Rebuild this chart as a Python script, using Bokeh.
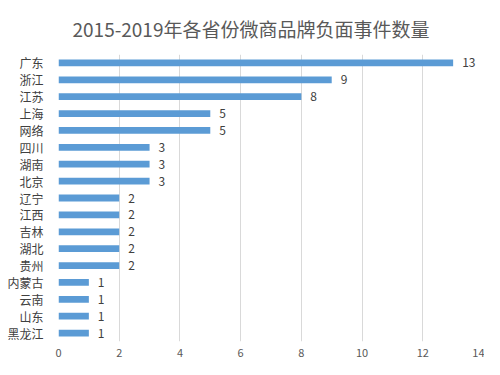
from bokeh.plotting import figure
from bokeh.models import FactorRange, Range1d, FixedTicker, ColumnDataSource
from bokeh.core.properties import value
from bokeh.embed import file_html
from bokeh.resources import INLINE

provinces = ["广东", "浙江", "江苏", "上海", "网络", "四川", "湖南", "北京", "辽宁",
             "江西", "吉林", "湖北", "贵州", "内蒙古", "云南", "山东", "黑龙江"]
counts = [13, 9, 8, 5, 5, 3, 3, 3, 2, 2, 2, 2, 2, 1, 1, 1, 1]
x_ticks = [0, 2, 4, 6, 8, 10, 12, 14]
title_text = "2015-2019年各省份微商品牌负面事件数量"

FONT = "Noto Sans CJK SC"

src = ColumnDataSource(dict(prov=provinces, cnt=counts, lbl=[str(c) for c in counts]))

p = figure(width=484, height=359, output_backend="svg", toolbar_location=None,
           y_range=FactorRange(factors=provinces[::-1], range_padding=0.0),
           x_range=Range1d(0, 14), title=title_text)
p.y_range.factor_padding = 0.0
p.min_border_left = 58
p.min_border_right = 1
p.min_border_bottom = 10
p.min_border_top = 10

p.title.align = "left"
p.title.offset = 14
p.title.text_font = FONT
p.title.text_font_size = "19px"
p.title.text_font_style = "normal"
p.title.text_color = "#595959"
p.title.standoff = 25

p.hbar(y="prov", right="cnt", height=0.4, left=0, source=src,
       fill_color="#5B9BD5", line_color=None)
p.text(x="cnt", y="prov", text="lbl", source=src, x_offset=9,
       text_baseline="middle", text_align="left", text_font=value(FONT),
       text_font_size="12px", text_color="#404040")

p.xaxis.ticker = FixedTicker(ticks=x_ticks)
p.xaxis.axis_line_color = None
p.xaxis.major_tick_line_color = None
p.xaxis.minor_tick_line_color = None
p.xaxis.major_label_text_font = FONT
p.xaxis.major_label_text_font_size = "11px"
p.xaxis.major_label_text_color = "#595959"
p.xaxis.major_label_standoff = 1

p.yaxis.axis_line_color = None
p.yaxis.major_tick_line_color = None
p.yaxis.minor_tick_line_color = None
p.yaxis.major_label_text_font = FONT
p.yaxis.major_label_text_font_size = "12px"
p.yaxis.major_label_text_color = "#404040"
p.yaxis.major_label_standoff = 9

p.xgrid.grid_line_color = "#d9d9d9"
p.xgrid.ticker = FixedTicker(ticks=x_ticks)
p.ygrid.grid_line_color = None
p.outline_line_color = None

open("out.html", "w").write(file_html(p, INLINE))
